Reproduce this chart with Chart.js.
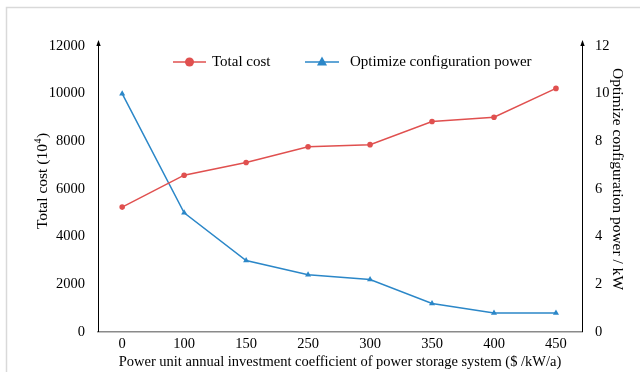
<!DOCTYPE html>
<html>
<head>
<meta charset="utf-8">
<script src="https://cdn.jsdelivr.net/npm/chart.js@4/dist/chart.umd.min.js"></script>
<style>
  html, body { margin: 0; padding: 0; background: #fff; }
  #wrap { width: 640px; height: 372px; position: relative; }
</style>
</head>
<body>
<div id="wrap"><canvas id="costChart"></canvas></div>
<script>
// data
const coefficients = ['0', '100', '150', '250', '300', '350', '400', '450'];
const totalCost = [5240, 6580, 7110, 7770, 7860, 8830, 9010, 10220];
const configPower = [10, 5, 3, 2.4, 2.2, 1.2, 0.8, 0.8];
const leftTicks = [0, 2000, 4000, 6000, 8000, 10000, 12000];
const rightTicks = [0, 2, 4, 6, 8, 10, 12];
const leftTitle = 'Total cost (10';
const leftTitleSup = '4';
const rightTitle = 'Optimize configuration power / kW';

const RED = '#e0504f';
const BLUE = '#2b87c8';
const FONT = 'Liberation Serif';

const toPoints = (vals) => vals.map((v, i) => ({ x: i, y: v }));

// frame, arrowed y axes, y titles and a line+marker legend
const decor = {
    id: 'decor',
    beforeDraw(chart) {
        const ctx = chart.ctx;
        ctx.save();
        ctx.strokeStyle = '#d9d9d9';
        ctx.lineWidth = 1.5;
        ctx.beginPath();
        ctx.moveTo(6.5, 372);
        ctx.lineTo(6.5, 7.5);
        ctx.lineTo(640, 7.5);
        ctx.stroke();
        ctx.restore();
    },
    afterDraw(chart) {
        const ctx = chart.ctx;
        const { top, bottom, left, right } = chart.chartArea;
        ctx.save();
        ctx.strokeStyle = '#000';
        ctx.fillStyle = '#000';
        ctx.lineWidth = 1;
        [left, right].forEach((x) => {
            const px = Math.round(x) + 0.5;
            ctx.beginPath();
            ctx.moveTo(px, bottom);
            ctx.lineTo(px, top - 2);
            ctx.stroke();
            ctx.beginPath();
            ctx.moveTo(px, top - 6);
            ctx.lineTo(px - 2.2, top);
            ctx.lineTo(px + 2.2, top);
            ctx.closePath();
            ctx.fill();
        });

        // y axis titles
        ctx.textBaseline = 'middle';
        ctx.font = '15.5px "' + FONT + '"';
        const supFont = '10px "' + FONT + '"';
        ctx.save();
        ctx.translate(43, 181);
        ctx.rotate(-Math.PI / 2);
        const w1 = ctx.measureText(leftTitle).width;
        ctx.font = supFont;
        const ws = ctx.measureText(leftTitleSup).width;
        ctx.font = '15.5px "' + FONT + '"';
        const w2 = ctx.measureText(')').width;
        let tx = -(w1 + ws + w2 + 1) / 2;
        ctx.textAlign = 'left';
        ctx.fillText(leftTitle, tx, 0);
        tx += w1;
        ctx.font = supFont;
        ctx.fillText(leftTitleSup, tx + 0.5, -5);
        tx += ws + 1;
        ctx.font = '15.5px "' + FONT + '"';
        ctx.fillText(')', tx, 0);
        ctx.restore();

        ctx.save();
        ctx.translate(617, 179);
        ctx.rotate(Math.PI / 2);
        ctx.textAlign = 'center';
        ctx.fillText(rightTitle, 0, 0);
        ctx.restore();

        // legend
        const items = [
            { ds: chart.data.datasets[0], x0: 173, x1: 206, text: 212 },
            { ds: chart.data.datasets[1], x0: 305, x1: 339, text: 350 }
        ];
        const ly = 62;
        ctx.font = '15px "' + FONT + '"';
        ctx.textBaseline = 'middle';
        ctx.textAlign = 'left';
        items.forEach((it) => {
            const c = it.ds.borderColor;
            ctx.strokeStyle = c;
            ctx.fillStyle = c;
            ctx.lineWidth = 1.5;
            ctx.beginPath();
            ctx.moveTo(it.x0, ly);
            ctx.lineTo(it.x1, ly);
            ctx.stroke();
            const cx = (it.x0 + it.x1) / 2;
            ctx.beginPath();
            if (it.ds.pointStyle === 'triangle') {
                ctx.moveTo(cx, ly - 5.5);
                ctx.lineTo(cx - 5, ly + 3.5);
                ctx.lineTo(cx + 5, ly + 3.5);
                ctx.closePath();
            } else {
                ctx.arc(cx, ly, 4.5, 0, Math.PI * 2);
            }
            ctx.fill();
            ctx.fillStyle = '#000';
            ctx.fillText(it.ds.label, it.text, ly + 0.5);
        });
        ctx.restore();
    }
};

const tickFont = { family: FONT, size: 14.5 };
const titleFont = { family: FONT, size: 14.5 };

new Chart(document.getElementById('costChart'), {
    type: 'line',
    data: {
        datasets: [
            {
                label: 'Total cost',
                data: toPoints(totalCost),
                yAxisID: 'y',
                borderColor: RED,
                backgroundColor: RED,
                borderWidth: 1.5,
                pointStyle: 'circle',
                pointRadius: 2.8,
                pointBorderWidth: 0,
                tension: 0
            },
            {
                label: 'Optimize configuration power',
                data: toPoints(configPower),
                yAxisID: 'y1',
                borderColor: BLUE,
                backgroundColor: BLUE,
                borderWidth: 1.5,
                pointStyle: 'triangle',
                pointRadius: 3.5,
                pointBorderWidth: 0,
                tension: 0
            }
        ]
    },
    options: {
        responsive: true,
        maintainAspectRatio: false,
        animation: false,
        layout: { padding: { top: 46, left: 0, right: 0, bottom: 0 } },
        plugins: {
            legend: { display: false },
            tooltip: { enabled: false }
        },
        scales: {
            x: {
                type: 'linear',
                min: -0.39,
                max: 7.42,
                afterBuildTicks: (s) => { s.ticks = coefficients.map((c, i) => ({ value: i })); },
                afterFit: (s) => { s.height = 40; },
                grid: { display: false, drawTicks: false },
                border: { display: true, color: '#8a8a8a', width: 1.5 },
                ticks: {
                    padding: 3,
                    color: '#000',
                    font: tickFont,
                    maxRotation: 0,
                    callback: (v) => coefficients[v] ?? ''
                },
                title: {
                    display: true,
                    text: 'Power unit annual investment coefficient of power storage system ($ /kW/a)',
                    color: '#000',
                    font: titleFont,
                    padding: { top: 0, bottom: 1 }
                }
            },
            y: {
                position: 'left',
                min: 0,
                max: 12000,
                afterBuildTicks: (s) => { s.ticks = leftTicks.map((v) => ({ value: v })); },
                afterFit: (s) => { s.width = 98; },
                grid: { display: false, drawTicks: false },
                border: { display: false },
                ticks: { padding: 13, color: '#000', font: tickFont, callback: (v) => String(v) }
            },
            y1: {
                position: 'right',
                min: 0,
                max: 12,
                afterBuildTicks: (s) => { s.ticks = rightTicks.map((v) => ({ value: v })); },
                afterFit: (s) => { s.width = 58; },
                grid: { display: false, drawTicks: false },
                border: { display: false },
                ticks: { padding: 13, color: '#000', font: tickFont, callback: (v) => String(v) }
            }
        }
    },
    plugins: [decor]
});
</script>
</body>
</html>
